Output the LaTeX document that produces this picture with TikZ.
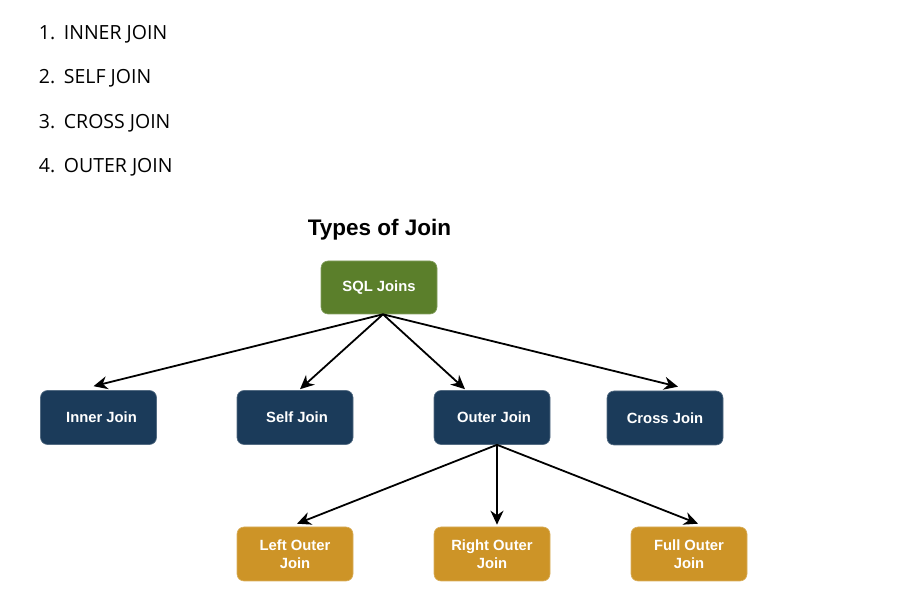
\documentclass[tikz,border=0pt]{standalone}
\usepackage{fontspec}
\setmainfont{Liberation Sans}
\newfontfamily\listfont{Open Sans}
\usetikzlibrary{calc,arrows.meta}
\definecolor{sqlgreen}{HTML}{5B7F2B}
\definecolor{joinblue}{HTML}{1B3B5A}
\definecolor{outergold}{HTML}{CD9427}
\begin{document}
\begin{tikzpicture}[x=1pt,y=1pt,line width=1.8pt,
    inner sep=0pt,
    listitem/.style={anchor=base west,font=\listfont\fontsize{19.5}{23}\selectfont},
    joinbox/.style={draw=#1!75!white,line width=0.6pt,fill=#1,rounded corners=7pt,
      minimum width=116pt,minimum height=54pt,text=white,align=center,
      font=\fontsize{14.8}{18}\selectfont\bfseries},
    link/.style={-{Stealth[length=14pt,width=13pt,inset=4.5pt]}}]
    \path[use as bounding box] (0,0) rectangle (899,610);
    \foreach \n/\t/\y in {1/INNER JOIN/570,2/SELF JOIN/526,3/CROSS JOIN/481,4/OUTER JOIN/437} {
      \node[listitem] (num\n) at (38,\y) {\n.};
      \node[listitem] (item\n) at (63,\y) {\t};
    }
    \node[font=\fontsize{22.5}{26}\selectfont\bfseries] (title) at (379.5,380) {Types of Join};
    \node[joinbox=sqlgreen,minimum height=53pt] (sql) at (379,322.5) {SQL Joins};
    \node[joinbox=joinblue] (inner) at (98.5,192.5) {\hspace{6pt}Inner Join};
    \node[joinbox=joinblue] (self) at (295,192.5) {\hspace{4pt}Self Join};
    \node[joinbox=joinblue] (outer) at (492,192.5) {\hspace{4pt}Outer Join};
    \node[joinbox=joinblue] (cross) at (665,192) {Cross Join};
    \node[joinbox=outergold] (left) at (295,56) {Left Outer\\Join};
    \node[joinbox=outergold] (right) at (492,56) {Right Outer\\Join};
    \node[joinbox=outergold] (full) at (689,56) {Full Outer\\Join};
    \coordinate (fork) at ($(sql.south)+(4,0)$);
    \draw[link] (fork) -- ($(inner.north)+(-5,4)$);
    \draw[link] (fork) -- ($(self.north)+(5,1)$);
    \draw[link] (fork) -- ($(outer.north)+(-27,1)$);
    \draw[link] (fork) -- ($(cross.north)+(13,4)$);
    \coordinate (split) at ($(outer.south)+(5,0)$);
    \draw[link] (split) -- ($(left.north)+(2,3)$);
    \draw[link] (split) -- ($(right.north)+(5,2)$);
    \draw[link] (split) -- ($(full.north)+(9,3)$);
  \end{tikzpicture}
\end{document}
